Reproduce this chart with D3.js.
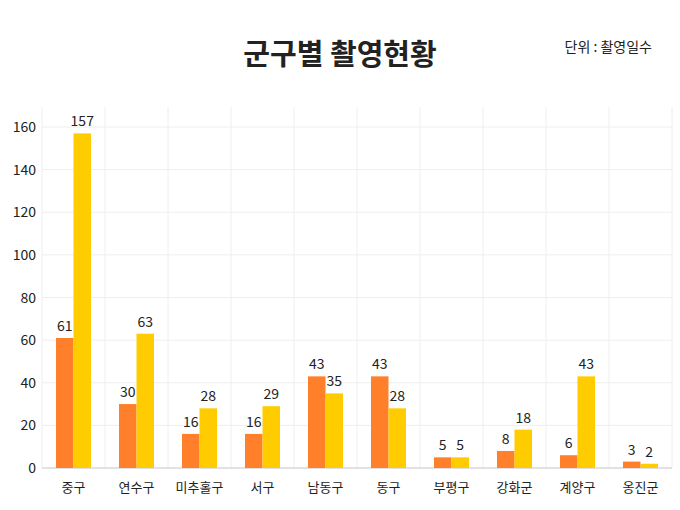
<!DOCTYPE html>
<html><head><meta charset="utf-8">
<script src="https://cdn.jsdelivr.net/npm/d3@7"></script>
<style>body{margin:0;background:#fff;font-family:"Noto Sans CJK KR","Noto Sans",sans-serif;}</style>
</head><body>
<svg id="chart" width="680" height="510"></svg>
<script>
// 군구별 촬영현황 data
const districts = ["중구", "연수구", "미추홀구", "서구", "남동구", "동구", "부평구", "강화군", "계양구", "옹진군"];
const seriesA = [61, 30, 16, 16, 43, 43, 5, 8, 6, 3];
const seriesB = [157, 63, 28, 29, 35, 28, 5, 18, 43, 2];
const yTicks = [0, 20, 40, 60, 80, 100, 120, 140, 160];

const svg = d3.select("#chart");
const plotLeft = 42, plotRight = 672, plotTop = 127, plotBottom = 468;

const x = d3.scaleBand().domain(districts).range([plotLeft, plotRight]).padding(0);
const y = d3.scaleLinear().domain([0, 160]).range([plotBottom, plotTop]);

// grid
svg.append("g").selectAll("line").data(yTicks).join("line")
  .attr("x1", plotLeft).attr("x2", plotRight)
  .attr("y1", d => y(d)).attr("y2", d => y(d))
  .attr("stroke", "#eeeeee");
svg.append("g").selectAll("line").data(districts).join("line")
  .attr("x1", d => x(d) + x.bandwidth()).attr("x2", d => x(d) + x.bandwidth())
  .attr("y1", plotTop - 20).attr("y2", plotBottom)
  .attr("stroke", "#eeeeee");
svg.append("line").attr("x1", plotLeft).attr("x2", plotLeft).attr("y1", plotTop - 20).attr("y2", plotBottom).attr("stroke", "#eeeeee");
svg.append("line").attr("x1", plotLeft).attr("x2", plotRight).attr("y1", plotBottom).attr("y2", plotBottom).attr("stroke", "#cccccc");

// y labels
svg.append("g").selectAll("text").data(yTicks).join("text")
  .attr("x", 36).attr("y", d => y(d) + 5).attr("text-anchor", "end")
  .attr("font-size", 14).attr("fill", "#222").text(d => d);

const bw = 17.5;
const groups = svg.append("g").selectAll("g").data(districts).join("g")
  .attr("transform", d => `translate(${x(d) + x.bandwidth() / 2},0)`);

groups.append("rect").attr("x", -bw).attr("width", bw)
  .attr("y", (d, i) => y(seriesA[i])).attr("height", (d, i) => plotBottom - y(seriesA[i]))
  .attr("fill", "#FF7F2A");
groups.append("rect").attr("x", 0).attr("width", bw)
  .attr("y", (d, i) => y(seriesB[i])).attr("height", (d, i) => plotBottom - y(seriesB[i]))
  .attr("fill", "#FFCC00");
groups.append("text").attr("x", -bw / 2).attr("y", (d, i) => y(seriesA[i]) - 7)
  .attr("text-anchor", "middle").attr("font-size", 14).attr("fill", "#222").text((d, i) => seriesA[i]);
groups.append("text").attr("x", bw / 2).attr("y", (d, i) => y(seriesB[i]) - 7)
  .attr("text-anchor", "middle").attr("font-size", 14).attr("fill", "#222").text((d, i) => seriesB[i]);
groups.append("text").attr("x", 0).attr("y", plotBottom + 24)
  .attr("text-anchor", "middle").attr("font-size", 13).attr("fill", "#222").text(d => d);

// title
svg.append("text").attr("x", 340).attr("y", 65).attr("text-anchor", "middle")
  .attr("font-size", 29).attr("font-weight", "bold").attr("fill", "#222").text("군구별 촬영현황");
svg.append("text").attr("x", 652).attr("y", 52).attr("text-anchor", "end")
  .attr("font-size", 14).attr("fill", "#222").text("단위 : 촬영일수");
</script>
</body></html>
